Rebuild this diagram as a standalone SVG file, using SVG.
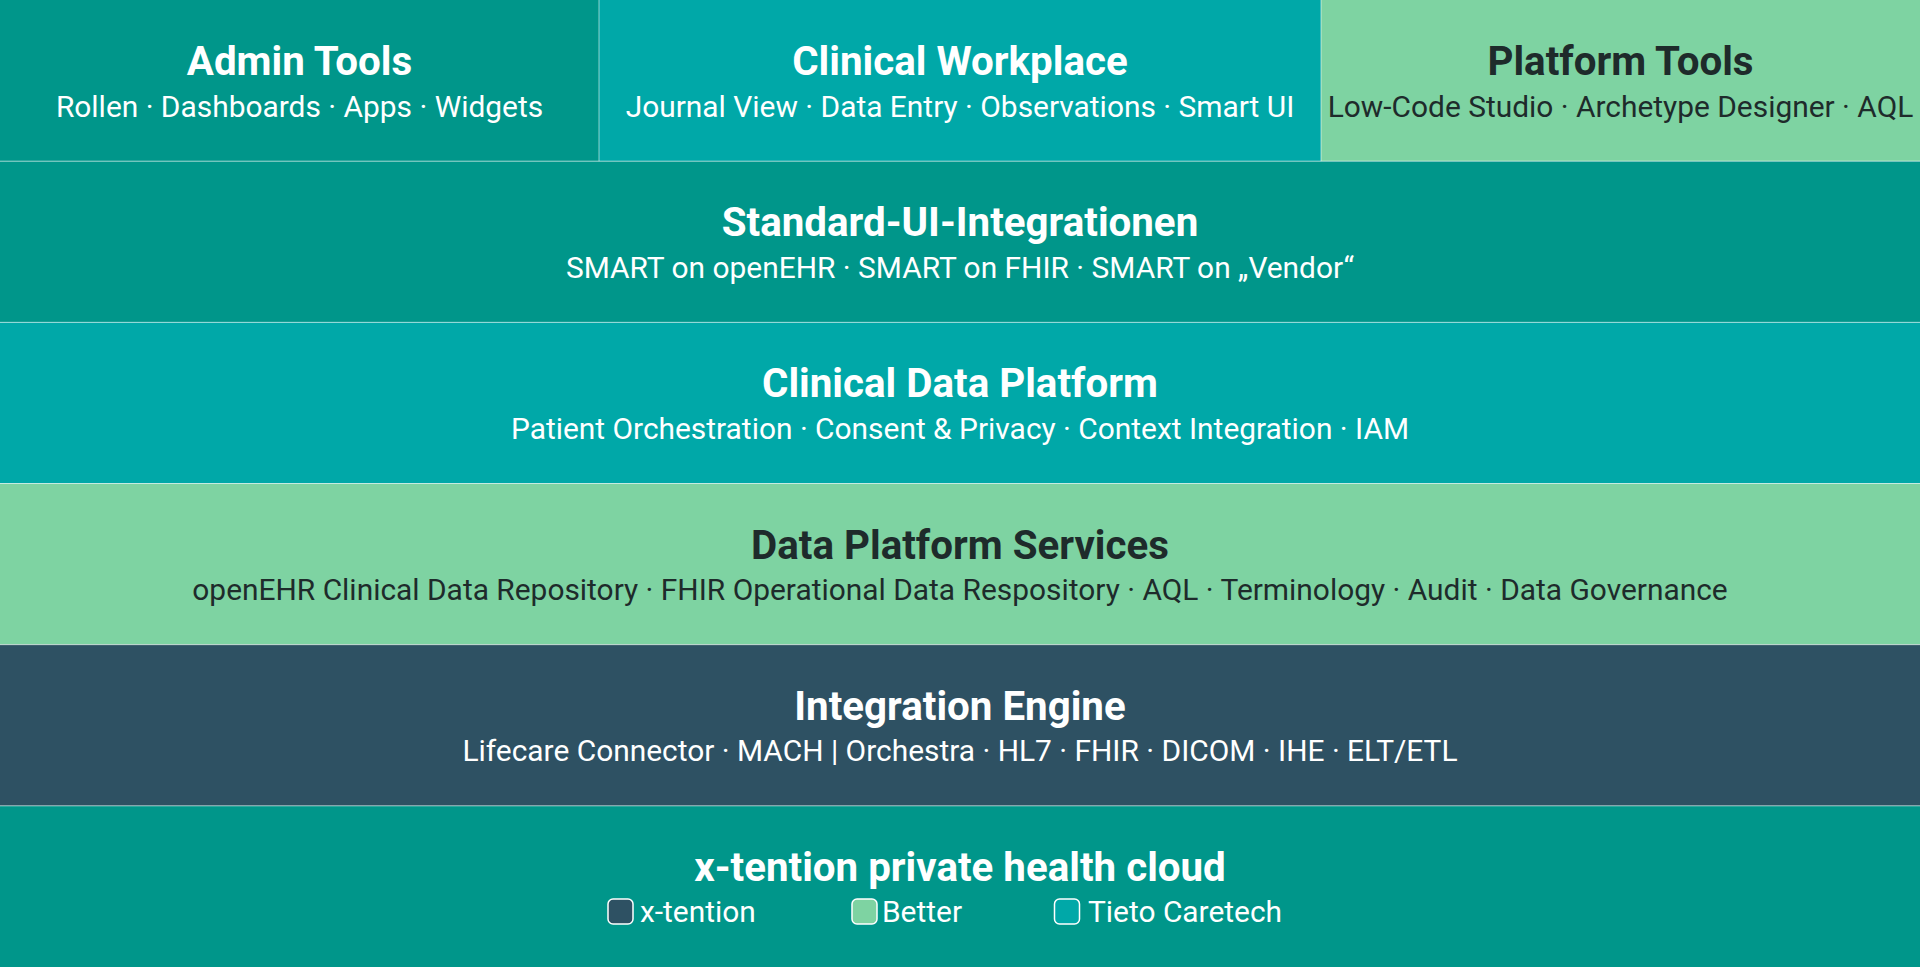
<svg xmlns="http://www.w3.org/2000/svg" width="1920" height="967" viewBox="0 0 1920 967">
  <style>
    .t { font-family: Roboto, "Liberation Sans", sans-serif; font-weight: 700; font-size: 40.3px; text-anchor: middle; }
    .s { font-family: Roboto, "Liberation Sans", sans-serif; font-weight: 400; font-size: 29.9px; text-anchor: middle; }
    .lg { font-family: Roboto, "Liberation Sans", sans-serif; font-weight: 400; font-size: 29.9px; }
    .w { fill: #ffffff; }
    .d { fill: #1e2b2b; }
    .teal { fill: #00968a; }
    .cyan { fill: #00a8a8; }
    .green { fill: #7ed3a2; }
    .dark { fill: #2e5163; }
    .sep { stroke: #ffffff; stroke-opacity: 0.55; stroke-width: 1; fill: none; }
    .key { stroke: #ffffff; stroke-width: 1.5; }
  </style>

  <g id="admin-tools">
    <rect class="teal" x="0" y="0" width="599" height="161.17"/>
    <text class="t w" x="299.5" y="75">Admin Tools</text>
    <text class="s w" x="299.5" y="116.5">Rollen · Dashboards · Apps · Widgets</text>
  </g>
  <g id="clinical-workplace">
    <rect class="cyan" x="599" y="0" width="722" height="161.17"/>
    <text class="t w" x="960" y="75">Clinical Workplace</text>
    <text class="s w" x="960" y="116.5">Journal View · Data Entry · Observations · Smart UI</text>
  </g>
  <g id="platform-tools">
    <rect class="green" x="1321" y="0" width="599" height="161.17"/>
    <text class="t d" x="1620.5" y="75">Platform Tools</text>
    <text class="s d" x="1620.5" y="116.5">Low-Code Studio · Archetype Designer · AQL</text>
  </g>
  <g id="standard-ui">
    <rect class="teal" x="0" y="161.17" width="1920" height="161.17"/>
    <text class="t w" x="960" y="236.17">Standard-UI-Integrationen</text>
    <text class="s w" x="960" y="277.67">SMART on openEHR · SMART on FHIR · SMART on „Vendor“</text>
  </g>
  <g id="clinical-data-platform">
    <rect class="cyan" x="0" y="322.33" width="1920" height="161.17"/>
    <text class="t w" x="960" y="397.33">Clinical Data Platform</text>
    <text class="s w" x="960" y="438.83">Patient Orchestration · Consent &amp; Privacy · Context Integration · IAM</text>
  </g>
  <g id="data-platform-services">
    <rect class="green" x="0" y="483.5" width="1920" height="161.17"/>
    <text class="t d" x="960" y="558.5">Data Platform Services</text>
    <text class="s d" x="960" y="600">openEHR Clinical Data Repository · FHIR Operational Data Respository · AQL · Terminology · Audit · Data Governance</text>
  </g>
  <g id="integration-engine">
    <rect class="dark" x="0" y="644.67" width="1920" height="161.17"/>
    <text class="t w" x="960" y="719.67">Integration Engine</text>
    <text class="s w" x="960" y="761.17">Lifecare Connector · MACH | Orchestra · HL7 · FHIR · DICOM · IHE · ELT/ETL</text>
  </g>
  <g id="private-health-cloud">
    <rect class="teal" x="0" y="805.83" width="1920" height="161.17"/>
    <text class="t w" x="960" y="880.83">x-tention private health cloud</text>
    <g id="legend">
      <rect class="dark key" x="608" y="899" width="25" height="25" rx="5"/>
      <text class="lg w" x="640" y="922">x-tention</text>
      <rect class="green key" x="852" y="899" width="25" height="25" rx="5"/>
      <text class="lg w" x="882" y="922">Better</text>
      <rect class="cyan key" x="1054.5" y="899" width="25" height="25" rx="5"/>
      <text class="lg w" x="1088" y="922">Tieto Caretech</text>
    </g>
  </g>

  <g id="connectors">
    <line class="sep" x1="599" y1="0" x2="599" y2="161.17"/>
    <line class="sep" x1="1321" y1="0" x2="1321" y2="161.17"/>
    <line class="sep" x1="0" y1="161.17" x2="1920" y2="161.17"/>
    <line class="sep" x1="0" y1="322.33" x2="1920" y2="322.33"/>
    <line class="sep" x1="0" y1="483.5" x2="1920" y2="483.5"/>
    <line class="sep" x1="0" y1="644.67" x2="1920" y2="644.67"/>
    <line class="sep" x1="0" y1="805.83" x2="1920" y2="805.83"/>
  </g>
</svg>
